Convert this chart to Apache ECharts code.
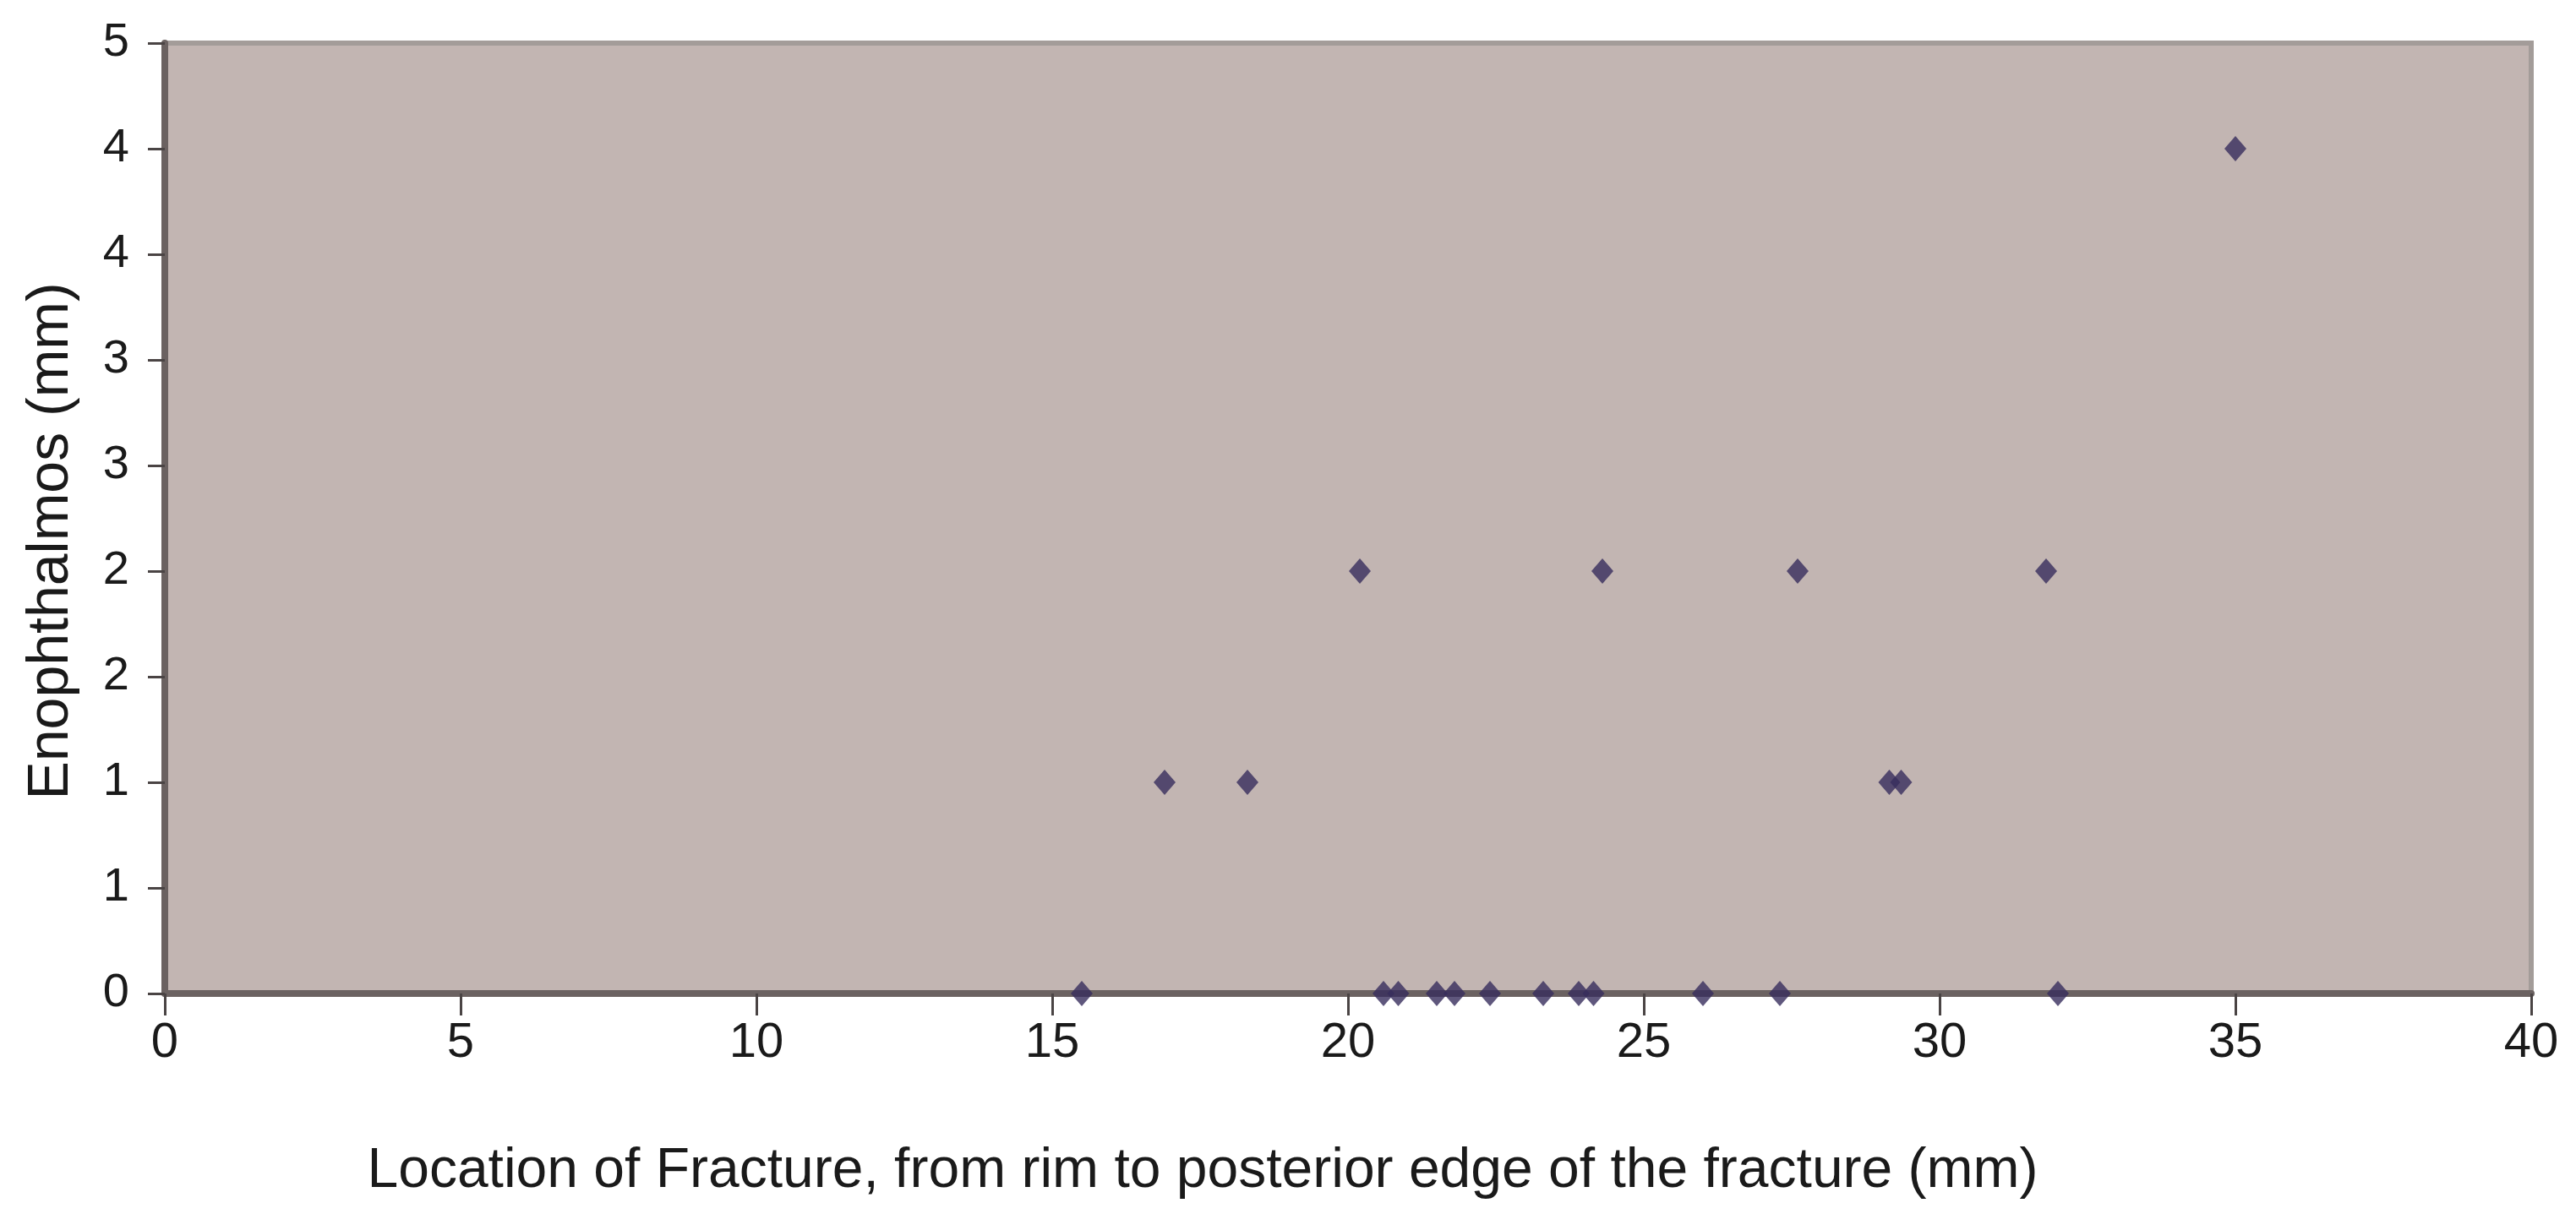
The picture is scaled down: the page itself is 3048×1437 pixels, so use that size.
<!DOCTYPE html>
<html>
<head>
<meta charset="utf-8">
<script src="https://cdn.jsdelivr.net/npm/echarts@6/dist/echarts.min.js"></script>
<style>
html,body{margin:0;padding:0;background:#ffffff;}
#chart{width:3048px;height:1437px;}
</style>
</head>
<body>
<div id="chart"></div>
<script>
// Location of fracture (mm)
const fractureLocation = [15.5, 16.9, 18.3, 20.2, 20.6, 20.85, 21.5, 21.8, 22.4, 23.3, 23.9, 24.15, 24.3, 26.0, 27.3, 27.6, 29.15, 29.35, 31.8, 32.0, 35.0];
// Enophthalmos (mm)
const enophthalmos = [0, 1, 1, 2, 0, 0, 0, 0, 0, 0, 0, 0, 2, 0, 0, 2, 1, 1, 2, 0, 4];
// Tick labels as printed (Excel rounded 0.5 steps to integers)
const yTickLabels = ['0', '1', '1', '2', '2', '3', '3', '4', '4', '5'];
const xTickLabels = ['0', '5', '10', '15', '20', '25', '30', '35', '40'];
const xTitle = 'Location of Fracture, from rim to posterior edge of the fracture (mm)';
const yTitle = 'Enophthalmos (mm)';

const points = fractureLocation.map((x, i) => [x, enophthalmos[i]]);

const chart = echarts.init(document.getElementById('chart'), null, {renderer: 'canvas'});
const font = '"Liberation Sans", Arial, sans-serif';
chart.setOption({
  backgroundColor: '#ffffff',
  animation: false,
  grid: {
    left: 195, right: 53, top: 51, bottom: 261,
    show: true,
    backgroundColor: '#c2b5b2',
    borderColor: '#a39c99',
    borderWidth: 6
  },
  xAxis: {
    type: 'value',
    min: 0, max: 40, interval: 5,
    axisLine: {show: true, onZero: false, lineStyle: {color: '#6b6261', width: 8}},
    axisTick: {show: true, inside: false, length: 26, lineStyle: {color: '#4a4444', width: 3}},
    splitLine: {show: false},
    axisLabel: {
      margin: 30, fontSize: 58, color: '#1a1a1a', fontFamily: font,
      formatter: (v, i) => xTickLabels[i]
    },
    name: xTitle,
    nameLocation: 'middle',
    nameGap: 178,
    nameTextStyle: {fontSize: 66, color: '#1a1a1a', fontFamily: font, padding: [0, 344, 0, 0]}
  },
  yAxis: {
    type: 'value',
    min: 0, max: 4.5, interval: 0.5,
    axisLine: {show: true, onZero: false, lineStyle: {color: '#6b6261', width: 8}},
    axisTick: {show: true, inside: false, length: 20, lineStyle: {color: '#4a4444', width: 3}},
    splitLine: {show: false},
    axisLabel: {
      margin: 42, fontSize: 56, color: '#1a1a1a', fontFamily: font,
      formatter: (v, i) => yTickLabels[i]
    },
    name: yTitle,
    nameLocation: 'middle',
    nameGap: 100,
    nameTextStyle: {fontSize: 68, color: '#1a1a1a', fontFamily: font, padding: [0, 54, 0, 0]}
  },
  series: [{
    type: 'scatter',
    data: points,
    symbol: 'diamond',
    symbolSize: [26, 30],
    clip: false,
    itemStyle: {color: '#372d5c'}
  }]
});
</script>
</body>
</html>
